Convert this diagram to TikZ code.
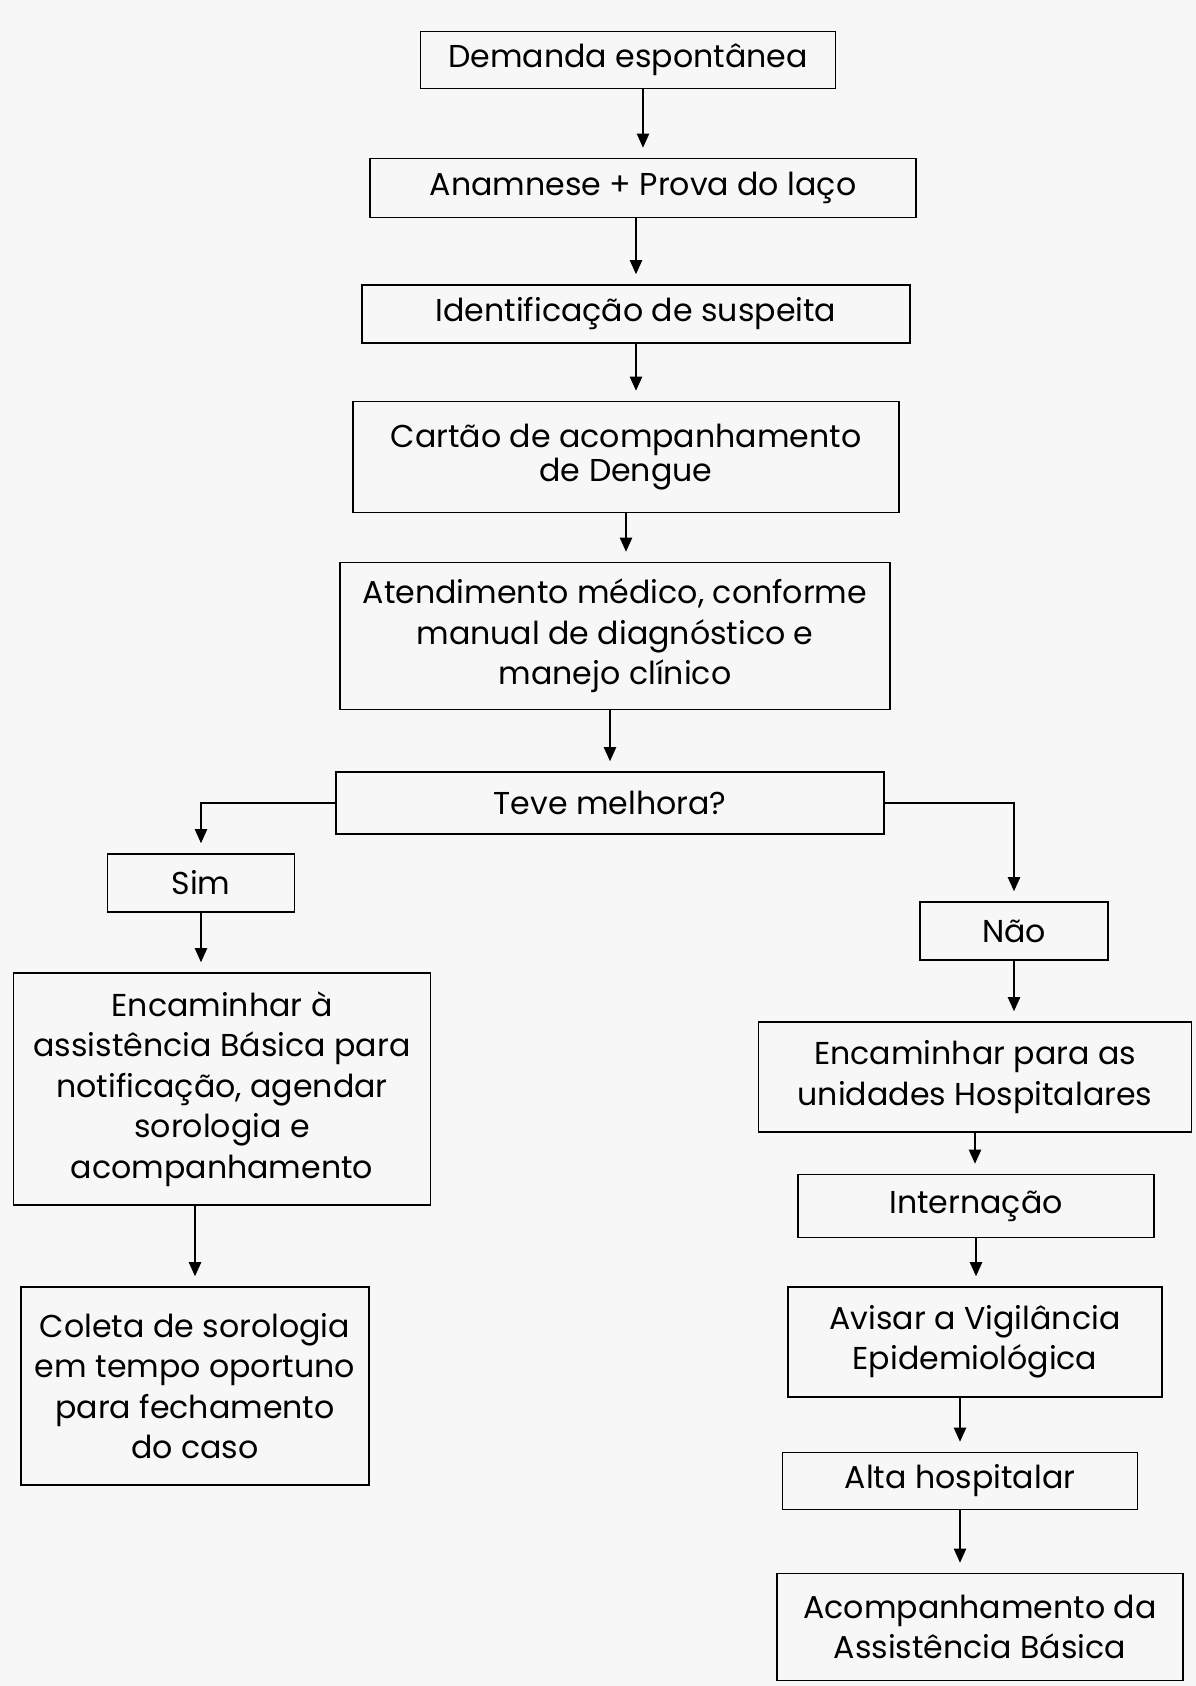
\documentclass[tikz,border=0pt]{standalone}
\usepackage{fontspec}
\setmainfont{Poppins}
\usetikzlibrary{arrows.meta}

\tikzset{
  caixa/.style={draw, line width=0.9pt, align=center, inner sep=0pt,
    font=\fontsize{18}{23}\selectfont},
  seta/.style={-{Triangle[length=8pt, width=7pt]}, line width=0.8pt,
    shorten >=0.2cm},
}

\begin{document}
\begin{tikzpicture}[x=0.02cm, y=-0.02cm]
            \fill[black!3] (0,0) rectangle (1196,1686);

            % coluna central
            \node[caixa, minimum width=8.3cm, minimum height=1.14cm] (dem) at (628,60) {Demanda espontânea};
            \node[caixa, minimum width=10.92cm, minimum height=1.18cm] (ana) at (643,188) {Anamnese + Prova do laço};
            \node[caixa, minimum width=10.96cm, minimum height=1.16cm] (ide) at (636,314) {Identificação de suspeita};
            \node[caixa, minimum width=10.92cm, minimum height=2.22cm, font=\fontsize{18}{19}\selectfont] (car) at (626,457) {Cartão de acompanhamento\\de Dengue};
            \node[caixa, minimum width=11cm, minimum height=2.94cm] (ate) at (615,636) {Atendimento médico, conforme\\manual de diagnóstico e\\manejo clínico};
            \node[caixa, minimum width=10.96cm, minimum height=1.24cm] (tev) at (610,803) {Teve melhora?};

            % ramo sim
            \node[caixa, minimum width=3.74cm, minimum height=1.16cm] (sim) at (201,883) {Sim};
            \node[caixa, minimum width=8.34cm, minimum height=4.64cm] (enc) at (222,1089) {Encaminhar à\\assistência Básica para\\notificação, agendar\\sorologia e\\acompanhamento};
            \node[caixa, minimum width=6.96cm, minimum height=3.96cm] (col) at (195,1386) {Coleta de sorologia\\em tempo oportuno\\para fechamento\\do caso};

            % ramo nao
            \node[caixa, minimum width=3.76cm, minimum height=1.16cm] (nao) at (1014,931) {Não};
            \node[caixa, minimum width=8.66cm, minimum height=2.2cm] (hos) at (975,1077) {Encaminhar para as\\unidades Hospitalares};
            \node[caixa, minimum width=7.12cm, minimum height=1.26cm] (int) at (976,1206) {Internação};
            \node[caixa, minimum width=7.48cm, minimum height=2.2cm] (avi) at (975,1342) {Avisar a Vigilância\\Epidemiológica};
            \node[caixa, minimum width=7.1cm, minimum height=1.14cm] (alt) at (960,1481) {Alta hospitalar};
            \node[caixa, minimum width=8.12cm, minimum height=2.14cm] (aco) at (980,1627) {Acompanhamento da\\Assistência Básica};

            \draw[seta] (ana.north |- dem.south) -- (ana.north);
            \draw[seta] (ide.north |- ana.south) -- (ide.north);
            \draw[seta] (ide.south) -- (ide.south |- car.north);
            \draw[seta] (car.south) -- (car.south |- ate.north);
            \draw[seta] (tev.north |- ate.south) -- (tev.north);

            \draw[seta] (tev.west) -| (sim.north);
            \draw[seta] (tev.east) -| (nao.north);

            \draw[seta] (sim.south) -- (sim.south |- enc.north);
            \draw[seta] (col.north |- enc.south) -- (col.north);

            \draw[seta] (nao.south) -- (nao.south |- hos.north);
            \draw[seta] (hos.south) -- (hos.south |- int.north);
            \draw[seta] (int.south) -- (int.south |- avi.north);
            \draw[seta] (alt.north |- avi.south) -- (alt.north);
            \draw[seta] (alt.south) -- (alt.south |- aco.north);
\end{tikzpicture}
\end{document}
